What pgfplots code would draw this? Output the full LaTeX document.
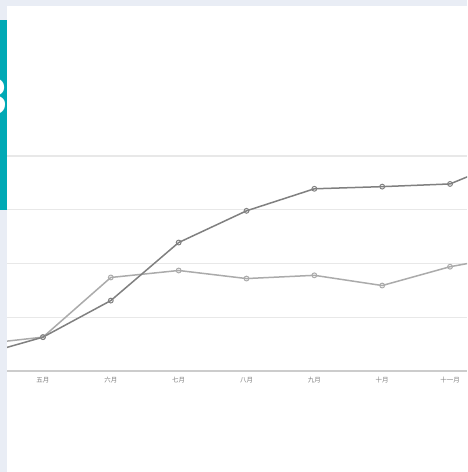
\documentclass[border=0pt]{standalone}
\usepackage{pgfplots}
\pgfplotsset{compat=1.18}
\usepackage{fontspec}
\newfontfamily\cjk{Noto Sans CJK SC}
\setmainfont{Liberation Sans}
\definecolor{bgc}{HTML}{E9EDF5}
\definecolor{teal1}{HTML}{00A9B5}
\definecolor{lineA}{HTML}{808080}
\definecolor{lineB}{HTML}{ABABAB}
\definecolor{gridc}{HTML}{E8E8E8}
\definecolor{axc}{HTML}{CCCCCC}
\definecolor{labc}{HTML}{808080}
\begin{document}
\begin{tikzpicture}
\fill[bgc] (0pt,0pt) rectangle (467pt,472pt);
\fill[white] (7pt,0pt) rectangle (467pt,466pt);
\begin{scope}
\clip (0pt,262pt) rectangle (7pt,452pt);
\fill[teal1] (0pt,262pt) rectangle (7pt,452pt);
\node[white, font=\fontsize{52}{52}\selectfont\bfseries, inner sep=0pt] at (-7pt,375pt) {3};
\end{scope}
\begin{axis}[
  at={(7pt,101pt)}, anchor=south west,
  scale only axis, width=460pt, height=215pt,
  xmin=0.47, xmax=7.25, ymin=0, ymax=40,
  axis x line*=bottom, axis y line*=left,
  x axis line style={axc, line width=1.4pt, -},
  y axis line style={draw=none},
  xtick={1,2,3,4,5,6,7},
  xticklabels={五月,六月,七月,八月,九月,十月,十一月},
  xticklabel style={font=\cjk\fontsize{6.5}{6.5}\selectfont, text=labc, yshift=-3pt},
  major tick length=0pt,
  ytick={10,20,30,40}, yticklabels={},
  ymajorgrids, major grid style={gridc, line width=1.2pt},
  clip=true,
]
\addplot[lineB, line width=1.5pt, mark=o, mark size=2.4pt, mark options={fill=white, line width=1pt}]
  coordinates {(0,4.9) (1,6.3) (2,17.4) (3,18.7) (4,17.2) (5,17.8) (6,15.9) (7,19.4) (8,21.7)};
\addplot[lineA, line width=1.5pt, mark=o, mark size=2.4pt, mark options={fill=white, line width=1pt}]
  coordinates {(0,2.7) (1,6.3) (2,13.1) (3,23.9) (4,29.8) (5,33.9) (6,34.3) (7,34.8) (8,40.0)};
\end{axis}
\pgfresetboundingbox
\path[use as bounding box] (0pt,0pt) rectangle (467pt,472pt);
\end{tikzpicture}
\end{document}
